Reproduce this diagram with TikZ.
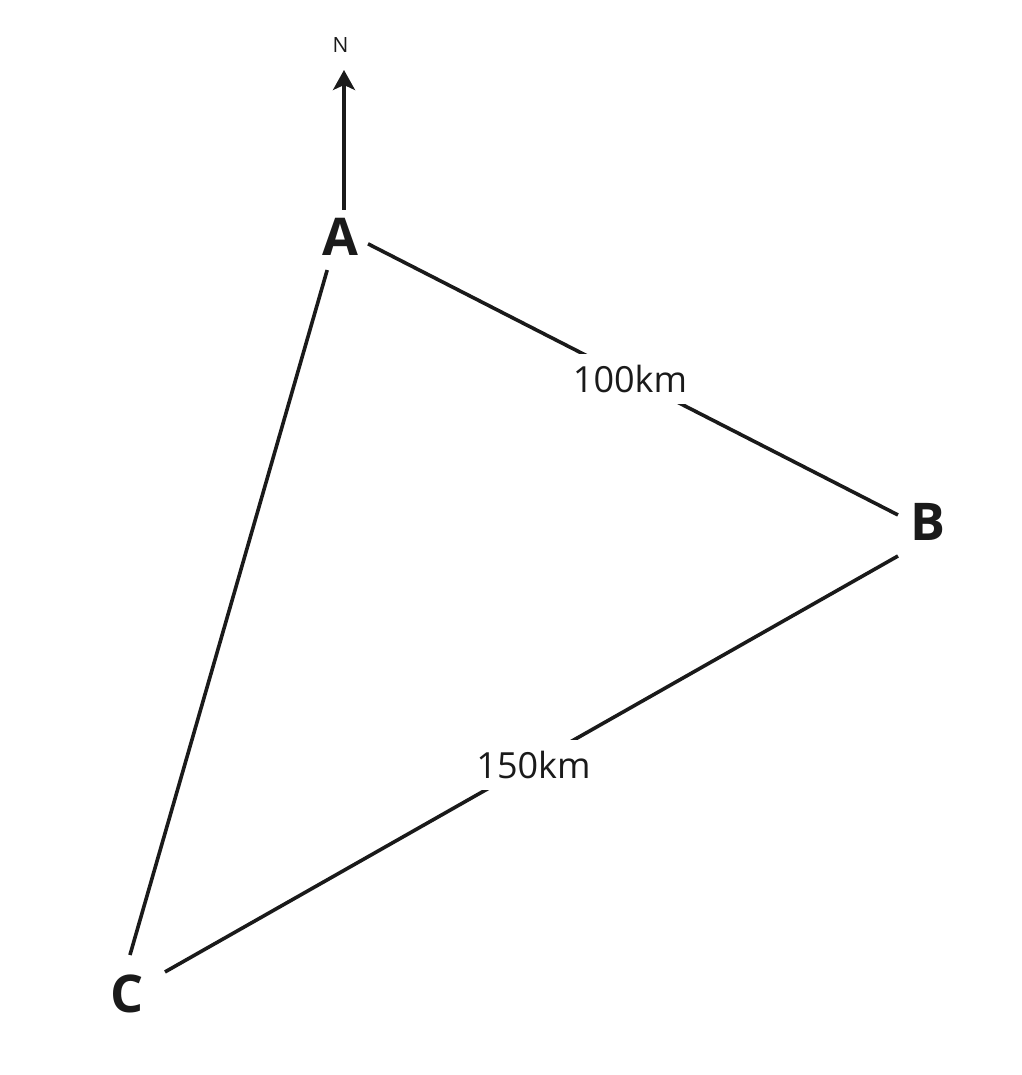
\documentclass[tikz,border=0pt]{standalone}
\usepackage{fontspec}
\setmainfont{Open Sans}
\usetikzlibrary{arrows.meta}
\definecolor{ink}{RGB}{26,26,26}
\begin{document}
\begin{tikzpicture}[x=1pt,y=-1pt,
  edge/.style={draw=ink,line width=3.6pt},
  vlabel/.style={text=ink,font=\fontsize{52}{60}\selectfont\bfseries,inner sep=0pt},
  dlabel/.style={text=ink,font=\fontsize{36}{42}\selectfont,fill=white,inner xsep=2pt,inner ysep=11pt},
  nlabel/.style={text=ink,font=\fontsize{21}{24}\selectfont,inner sep=0pt}]
\useasboundingbox (0,0) rectangle (1021,1075);
% vertices
\coordinate (vA) at (339,229);
\coordinate (vB) at (936,534.4);
\coordinate (vC) at (117.3,999);
% vertex labels
\node[vlabel] (A) at (340,236.5) {A};
\node[vlabel] (B) at (927.5,521.5) {B};
\node[vlabel] (C) at (127,993.5) {C};
% north arrow
\node[nlabel] (N) at (340.5,45.5) {N};
\coordinate (Ntail) at (344,210);
\coordinate (Ntip) at (344,70);
\draw[ink,line width=3.6pt,-{Stealth[length=20pt,width=22pt,inset=5pt]}] (Ntail) -- (Ntip);
% sides
\draw[edge,shorten <=32.6pt,shorten >=42.7pt] (vA) -- (vB);
\draw[edge,shorten <=43.7pt,shorten >=54.8pt] (vB) -- (vC);
\draw[edge,shorten <=42.7pt,shorten >=45.8pt] (vA) -- (vC);
% distance labels
\node[dlabel] (dAB) at (630,379) {100km};
\node[dlabel] (dBC) at (533.5,765) {150km};
\end{tikzpicture}
\end{document}
